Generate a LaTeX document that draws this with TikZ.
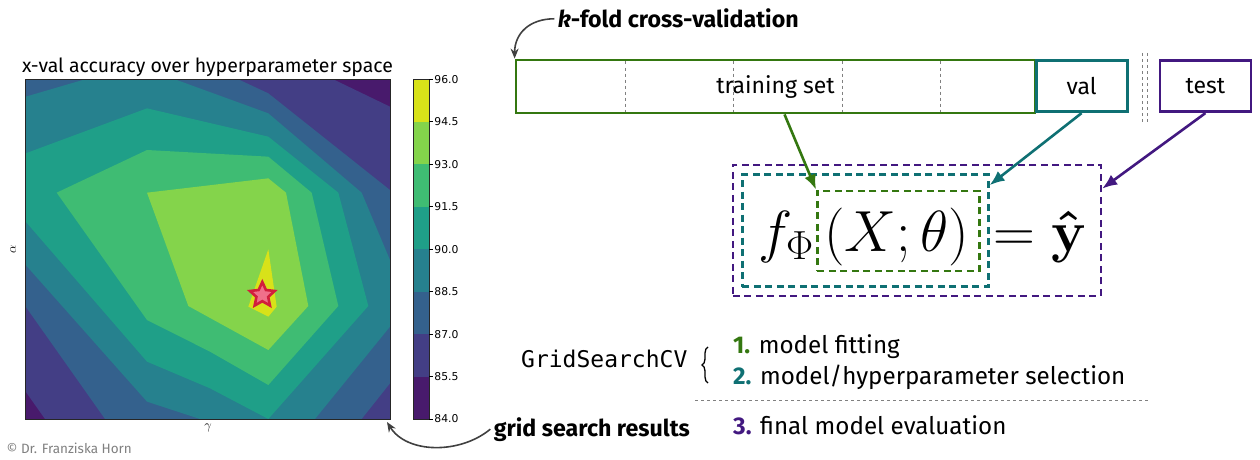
\documentclass[tikz,border=0pt]{standalone}
\usepackage{fix-cm}
\usepackage[no-math]{fontspec}
\setmainfont{Fira Sans}
\newfontfamily\cbarfont{DejaVu Sans}
\newfontfamily\codefont{DejaVu Sans Mono}
\usetikzlibrary{shapes.geometric, arrows.meta, calc, decorations.pathreplacing}

\definecolor{foldgreen}{RGB}{52,119,16}
\definecolor{valteal}{RGB}{15,112,115}
\definecolor{testpurple}{RGB}{66,24,128}
\definecolor{arrowgray}{RGB}{64,64,64}
\definecolor{vir1}{HTML}{481A6C}
\definecolor{vir2}{HTML}{433E85}
\definecolor{vir3}{HTML}{34618D}
\definecolor{vir4}{HTML}{26818E}
\definecolor{vir5}{HTML}{1F9F88}
\definecolor{vir6}{HTML}{3FBC73}
\definecolor{vir7}{HTML}{84D44B}
\definecolor{vir8}{HTML}{D8E219}
\definecolor{starfill}{HTML}{F0708A}
\definecolor{starline}{HTML}{D21F3C}

\tikzset{
  setbox/.style={draw, line width=2.8pt, inner sep=0pt, font=\fontsize{23}{27}\selectfont},
  foldline/.style={draw=gray, dashed, line width=0.9pt},
  fitbox/.style={draw, line width=2.6pt, dash pattern=on 7pt off 4.5pt, inner sep=0pt},
  setarrow/.style={line width=2.6pt, -{Latex[length=15pt, width=12pt]}},
  notearrow/.style={arrowgray, line width=1.6pt, -{Stealth[length=10pt, width=8pt]}},
  steptext/.style={anchor=base west, inner sep=0pt, font=\fontsize{24.2}{28}\selectfont},
  notetext/.style={anchor=base west, font=\bfseries\fontsize{23.2}{27}\selectfont},
  mathpart/.style={inner sep=0pt, font=\fontsize{58}{64}\selectfont}
}

\begin{document}
\begin{tikzpicture}[x=1pt, y=-1pt]
  \useasboundingbox (0,0) rectangle (1260,460);

  % contour plot (drawn at 3x, then scaled down)
  \begin{scope}[shift={(0,40)}, scale=1/3]
    \fill[vir1] (77,118) rectangle (1170,1137);
    \fill[vir2] (77,118) -- (1000,118) -- (1170,200) -- (1170,1137) -- (135,1137) -- (77,1055) -- cycle;
    \fill[vir3] (77,118) -- (715,118) -- (805,160) -- (1170,450) -- (1170,1030) -- (1085,1137) -- (315,1137) -- (77,800) -- cycle;
    \fill[vir4] (77,170) -- (255,118) -- (525,118) -- (805,220) -- (1085,458) -- (1170,660) -- (1170,860) -- (945,1137) -- (600,1137) -- (441,1085) -- (77,675) -- cycle;
    \fill[vir5] (77,340) -- (441,205) -- (805,290) -- (1015,458) -- (1105,798) -- (805,1137) -- (630,1045) -- (441,965) -- (77,545) -- cycle;
    \fill[vir6] (170,458) -- (441,330) -- (805,350) -- (935,458) -- (1015,798) -- (805,1035) -- (630,935) -- (441,840) -- cycle;
    \fill[vir7] (441,458) -- (805,415) -- (858,458) -- (925,798) -- (805,930) -- (565,798) -- cycle;
    \fill[vir8] (805,628) -- (745,800) -- (805,830) -- (830,800) -- cycle;
    \draw[line width=0.8pt, black!85] (77,118) rectangle (1170,1137);
  \end{scope}
  \node[star, star points=5, star point ratio=2.1, fill=starfill, draw=starline, line width=2.6pt, minimum size=26pt, inner sep=0pt] (best) at (262.3,295) {};

  % colorbar
  \foreach \i/\c in {0/vir1,1/vir2,2/vir3,3/vir4,4/vir5,5/vir6,6/vir7,7/vir8}
    \fill[\c] (413,{419-42.46*\i}) rectangle (429,{419-42.46*(\i+1)});
  \draw[line width=0.8pt, black!85] (413,79.3) rectangle (429,419);
  \foreach \i/\lab in {0/84.0,1/85.5,2/87.0,3/88.5,4/90.0,5/91.5,6/93.0,7/94.5,8/96.0}
    \draw[line width=0.8pt] (429,{419-42.46*\i}) -- (432.5,{419-42.46*\i})
      node[right, inner sep=1.5pt, font=\cbarfont\fontsize{10.8}{12}\selectfont] (tick\i) {\lab};

  \node[anchor=base, font=\fontsize{19.5}{23}\selectfont] (title) at (207.5,72) {x-val accuracy over hyperparameter space};
  \node[rotate=90, font=\fontsize{13}{15}\selectfont] (alab) at (13,249) {$\alpha$};
  \node[font=\fontsize{13}{15}\selectfont] (glab) at (208,428) {$\gamma$};
  \node[anchor=west, text=gray, font=\fontsize{13.5}{16}\selectfont] (copy) at (3,448) {© Dr. Franziska Horn};

  % data split
  \node[setbox, draw=foldgreen, minimum width=519pt, minimum height=53pt] (train) at (775.5,86.5) {training set};
  \foreach \x in {625, 733, 842, 940}
    \draw[foldline] (\x,61.5) -- (\x,111.5);
  \node[setbox, draw=valteal, minimum width=91pt, minimum height=51pt] (val) at (1081.6,86.2) {val};
  \node[setbox, draw=testpurple, minimum width=91pt, minimum height=51pt] (test) at (1205.4,86.2) {test};
  \draw[foldline] (1142,53) -- (1142,123);
  \draw[foldline] (1147,53) -- (1147,123);

  \node[notetext] (kfold) at (554.3,28) {\textit{k}-fold cross-validation};
  \draw[notearrow] (kfold.west) .. controls +(-25,0) and +(0,-25) .. (train.north west);

  % model
  \node[mathpart, anchor=base east] (fphi) at (814,251) {$f_{\Phi}$};
  \node[mathpart, anchor=base] (args) at (896.5,251) {$(X;\theta)$};
  \node[mathpart, anchor=base west] (yhat) at (993,251) {$=\mathbf{\hat{y}}$};
  \node[fitbox, draw=testpurple, minimum width=368pt, minimum height=131pt] (testfit) at (916.9,230.4) {};
  \node[fitbox, draw=valteal, minimum width=246pt, minimum height=112pt] (valfit) at (865.3,230.5) {};
  \node[fitbox, draw=foldgreen, minimum width=162pt, minimum height=80pt] (trainfit) at (898.3,230.9) {};

  \draw[setarrow, foldgreen] ($(train.south)+(9,0)$) -- (trainfit.north west);
  \draw[setarrow, valteal] (val.south) -- ($(valfit.north east)+(0,12)$);
  \draw[setarrow, testpurple] (test.south) -- ($(testfit.north east)+(0,25)$);

  % steps
  \node[anchor=base west, inner sep=0pt, font=\codefont\fontsize{23}{27}\selectfont] (gscv) at (521,367) {GridSearchCV};
  \draw[decorate, decoration={brace, amplitude=6pt}, line width=1.3pt] (708,383) -- (708,347);
  \node[steptext] (step1) at (733,353) {\textbf{\color{foldgreen}1.} model fitting};
  \node[steptext] (step2) at (733,384) {\textbf{\color{valteal}2.} model/hyperparameter selection};
  \draw[gray, dashed, line width=0.9pt] (695,400) -- (1148,400);
  \node[steptext] (step3) at (733,434) {\textbf{\color{testpurple}3.} final model evaluation};

  \node[notetext] (gsr) at (490.3,436) {grid search results};
  \coordinate (plotcorner) at (387,422);
  \draw[notearrow] (gsr.west) .. controls +(-30,25) and +(20,32) .. (plotcorner);
\end{tikzpicture}
\end{document}
